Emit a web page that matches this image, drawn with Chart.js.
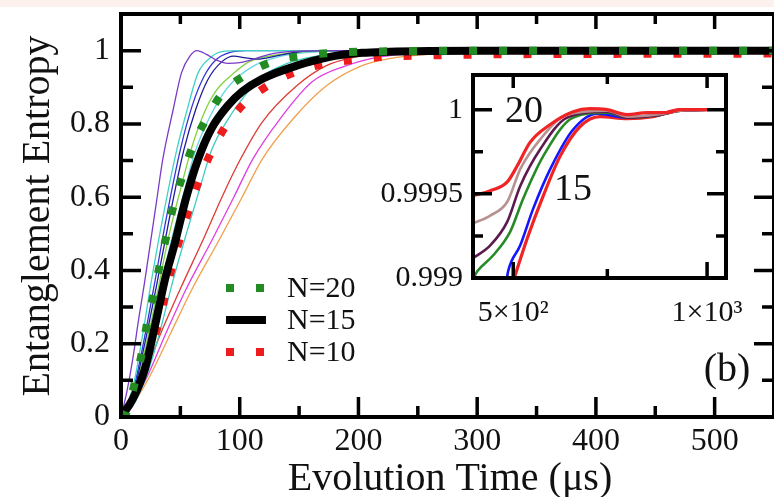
<!DOCTYPE html>
<html>
<head>
<meta charset="utf-8">
<script src="https://cdn.jsdelivr.net/npm/chart.js@4.4.1/dist/chart.umd.min.js"></script>
<style>
  html, body { margin: 0; padding: 0; background: #fff; }
  #wrap { position: relative; width: 774px; height: 497px; overflow: hidden; }
  #main { position: absolute; left: 0; top: 0; }
  #inset { position: absolute; left: 360px; top: 62px; }
</style>
</head>
<body>
<div id="wrap">
  <canvas id="main" width="774" height="497"></canvas>
  <canvas id="inset" width="395" height="270"></canvas>
</div>
<script>
// main panel: entropy vs time (us)
const xTicks = [0, 100, 200, 300, 400, 500];
const yTicks = [0, 0.2, 0.4, 0.6, 0.8, 1];
const yTickLabels = ["0", "0.2", "0.4", "0.6", "0.8", "1"];

const n20X = [0, 5, 11.8, 17.6, 22, 27.7, 33, 38.7, 44.5, 52, 60.5, 72, 85, 104, 127.7, 153, 178, 203, 250, 300, 550];
const n20Y = [0, 0.014, 0.096, 0.175, 0.257, 0.337, 0.42, 0.5, 0.58, 0.66, 0.74, 0.814, 0.882, 0.932, 0.97, 0.986, 0.994, 0.997, 0.999, 1, 1];
const n15X = [0, 10, 20, 30, 37, 45, 55, 65, 76, 90, 102, 119, 148, 176, 203, 226, 260, 300, 550];
const n15Y = [0, 0.05, 0.13, 0.27, 0.375, 0.47, 0.6, 0.704, 0.786, 0.85, 0.888, 0.923, 0.959, 0.983, 0.994, 0.997, 0.999, 1, 1];
const n10X = [0, 12, 23, 32, 37, 43, 49.6, 57, 65.5, 75.6, 87.4, 103, 123.5, 147, 171.4, 196.6, 221.8, 260, 320, 400, 550];
const n10Y = [0, 0.07, 0.17, 0.26, 0.33, 0.41, 0.488, 0.564, 0.644, 0.72, 0.79, 0.853, 0.904, 0.942, 0.964, 0.975, 0.983, 0.987, 0.99, 0.991, 0.992];

// thin curves
const purpleX = [0, 5, 10, 15, 20, 25, 30, 35, 44, 51, 58, 64, 72, 80, 90, 100, 110, 125, 145, 170, 550];
const purpleY = [0, 0.07, 0.16, 0.27, 0.37, 0.48, 0.59, 0.7, 0.84, 0.94, 0.985, 1, 0.99, 0.975, 0.965, 0.967, 0.975, 0.99, 0.998, 1, 1];
const cyan1X = [0, 10, 18, 25, 35, 47, 55, 65, 75, 85, 100, 550];
const cyan1Y = [0, 0.08, 0.22, 0.36, 0.54, 0.73, 0.83, 0.94, 0.98, 0.997, 1, 1];
const blue1X = [0, 10, 20, 28, 38, 50, 60, 70, 80, 92, 105, 550];
const blue1Y = [0, 0.07, 0.22, 0.36, 0.54, 0.73, 0.85, 0.93, 0.975, 0.995, 1, 1];
const blue2X = [0, 10, 20, 30, 40, 53, 63, 73, 85, 95, 105, 115, 130, 150, 170, 550];
const blue2Y = [0, 0.06, 0.2, 0.36, 0.53, 0.73, 0.84, 0.92, 0.97, 0.985, 0.98, 0.977, 0.985, 0.997, 1, 1];
const limeX = [0, 10, 20, 30, 40, 50, 60, 70, 80, 92, 108, 134, 160, 200, 550];
const limeY = [0, 0.06, 0.18, 0.33, 0.49, 0.62, 0.74, 0.83, 0.89, 0.93, 0.97, 0.99, 0.998, 1, 1];
const ltcyanX = [0, 10, 20, 30, 40, 52, 62, 75, 90, 110, 135, 165, 200, 550];
const ltcyanY = [0, 0.05, 0.16, 0.3, 0.45, 0.6, 0.72, 0.82, 0.9, 0.955, 0.985, 0.997, 1, 1];
const cyan2X = [0, 10, 20, 30, 44, 55, 66, 76.5, 91.6, 105, 119, 140, 161, 190, 230, 550];
const cyan2Y = [0, 0.03, 0.1, 0.2, 0.375, 0.5, 0.62, 0.73, 0.82, 0.88, 0.93, 0.965, 0.983, 0.995, 1, 1];
const redX = [0, 10, 20, 35, 50, 70, 85, 100, 119, 148, 173, 198, 220, 260, 320, 550];
const redY = [0, 0.05, 0.12, 0.24, 0.35, 0.49, 0.6, 0.7, 0.805, 0.904, 0.959, 0.983, 0.99, 0.997, 1, 1];
const magX = [0, 10, 22, 38, 55, 77, 95, 111, 134, 161, 190, 218, 250, 300, 350, 550];
const magY = [0, 0.04, 0.11, 0.23, 0.35, 0.485, 0.6, 0.704, 0.814, 0.915, 0.959, 0.983, 0.993, 0.998, 1, 1];
const orangeX = [0, 10, 24, 42, 60, 83, 102, 119, 145, 173, 203, 226, 260, 320, 380, 550];
const orangeY = [0, 0.035, 0.11, 0.23, 0.35, 0.485, 0.6, 0.704, 0.814, 0.904, 0.959, 0.978, 0.99, 0.998, 1, 1];

// inset panel (log time axis)
const insetXTicks = [500, 700, 1000];
const insetXLabels = { 500: "5×10²", 1000: "1×10³" };
const insetYTicks = [0.999, 0.99925, 0.9995, 0.99975, 1];
const insetYLabels = { 0.999: "0.999", 0.9995: "0.9995", 1: "1" };

const inRedTopX = [433, 460.6, 489.5, 507, 531, 570.7, 619.5, 658, 699.5, 751, 807, 867, 908, 1000];
const inRedTopY = [0.999488, 0.999518, 0.999571, 0.999665, 0.999806, 0.999912, 0.999988, 1.000006, 1, 0.999971, 0.999982, 0.999982, 1, 1];
const inRosyX = [433, 460.6, 489.5, 512.7, 550.6, 606.4, 699.5, 751, 836, 908, 1000];
const inRosyY = [0.999324, 0.999371, 0.999453, 0.999647, 0.999824, 0.999971, 0.999994, 0.999959, 0.999971, 0.999994, 1];
const inPlumX = [433, 460.6, 489.5, 512.7, 550.6, 606.4, 699.5, 751, 836, 908, 1000];
const inPlumY = [0.999118, 0.999194, 0.999335, 0.999547, 0.999765, 0.999953, 0.999988, 0.999953, 0.999965, 0.999994, 1];
const inGreenX = [433, 440, 465.5, 494.7, 518, 556.6, 619.5, 699.5, 751, 836, 908, 1000];
const inGreenY = [0.998995, 0.999041, 0.999135, 0.999276, 0.999471, 0.999724, 0.999953, 0.999982, 0.999953, 0.999965, 0.999994, 1];
const inBlueX = [488, 491, 512.7, 537, 570.7, 619.5, 675, 751, 836, 908, 1000];
const inBlueY = [0.99898, 0.999041, 0.999194, 0.999412, 0.999647, 0.999882, 0.999976, 0.999953, 0.999971, 0.999994, 1];
const inRedLowX = [500, 503.6, 525.6, 556.6, 591.4, 635, 682, 751, 824.5, 908, 1000];
const inRedLowY = [0.99898, 0.999018, 0.999235, 0.999488, 0.999724, 0.9999, 0.999959, 0.999947, 0.999959, 1, 1];

const SERIF = "'Liberation Serif', 'DejaVu Serif', serif";
Chart.defaults.font.family = SERIF;

function pts(xs, ys) {
  return xs.map((x, i) => ({ x: x, y: ys[i] }));
}

function line(label, xs, ys, color, width, dash) {
  return {
    label: label,
    data: pts(xs, ys),
    borderColor: color,
    backgroundColor: color,
    borderWidth: width,
    borderDash: dash || [],
    borderCapStyle: "butt",
    cubicInterpolationMode: "monotone",
    pointRadius: 0,
    fill: false
  };
}

// keep the plot box where we put it, labels may overhang
function fixX(h) {
  return s => { s.height = h; s.paddingLeft = 0; s.paddingRight = 0; };
}
function fixY(w) {
  return s => { s.width = w; s.paddingTop = 0; s.paddingBottom = 0; };
}

// frame + inward ticks drawn on top of the curves
function drawFrame(chart, spec) {
  const { ctx, chartArea: a, scales } = chart;
  const x = scales.x, y = scales.y;
  ctx.save();
  ctx.strokeStyle = "#000";
  ctx.lineWidth = spec.frame;
  ctx.strokeRect(a.left, a.top, a.right - a.left, a.bottom - a.top);
  ctx.lineWidth = spec.tick;
  ctx.beginPath();
  spec.xMajor.forEach(v => {
    const p = x.getPixelForValue(v);
    ctx.moveTo(p, a.bottom); ctx.lineTo(p, a.bottom - spec.bMaj);
    ctx.moveTo(p, a.top); ctx.lineTo(p, a.top + spec.tMaj);
  });
  spec.xMinor.forEach(v => {
    const p = x.getPixelForValue(v);
    ctx.moveTo(p, a.bottom); ctx.lineTo(p, a.bottom - spec.bMin);
    ctx.moveTo(p, a.top); ctx.lineTo(p, a.top + spec.tMin);
  });
  spec.yMajor.forEach(v => {
    const p = y.getPixelForValue(v);
    ctx.moveTo(a.left, p); ctx.lineTo(a.left + spec.lMaj, p);
    ctx.moveTo(a.right, p); ctx.lineTo(a.right - spec.lMaj, p);
  });
  spec.yMinor.forEach(v => {
    const p = y.getPixelForValue(v);
    ctx.moveTo(a.left, p); ctx.lineTo(a.left + spec.lMin, p);
    ctx.moveTo(a.right, p); ctx.lineTo(a.right - spec.lMin, p);
  });
  ctx.stroke();
  ctx.restore();
}

const mainPlugin = {
  id: "mainDeco",
  beforeDraw(chart) {
    const ctx = chart.ctx;
    ctx.save();
    ctx.fillStyle = "#ffffff";
    ctx.fillRect(0, 0, chart.width, chart.height);
    ctx.fillStyle = "#fcf1ec";
    ctx.fillRect(0, 0, chart.width, 7);
    ctx.restore();
  },
  afterDatasetsDraw(chart) {
    drawFrame(chart, {
      frame: 4, tick: 3.5,
      xMajor: [0, 100, 200, 300, 400, 500], xMinor: [50, 150, 250, 350, 450, 550],
      yMajor: [0.2, 0.4, 0.6, 0.8, 1], yMinor: [0.1, 0.3, 0.5, 0.7, 0.9],
      bMaj: 20, bMin: 11, tMaj: 15, tMin: 10, lMaj: 20, lMin: 12
    });
  },
  afterDraw(chart) {
    const ctx = chart.ctx;
    ctx.save();
    ctx.fillStyle = "#111";
    // axis titles
    ctx.font = "40px " + SERIF;
    ctx.textAlign = "center";
    ctx.textBaseline = "alphabetic";
    ctx.fillText("Evolution Time (μs)", 450, 490);
    ctx.translate(49, 216);
    ctx.rotate(-Math.PI / 2);
    ctx.fillText("Entanglement Entropy", 0, 0);
    ctx.setTransform(1, 0, 0, 1, 0, 0);

    // legend
    const rows = [
      { label: "N=20", color: "#228b22", dash: [8, 22], y: 288 },
      { label: "N=15", color: "#000000", dash: [], y: 320 },
      { label: "N=10", color: "#ee1c1c", dash: [8, 22], y: 352 }
    ];
    rows.forEach(r => {
      ctx.strokeStyle = r.color;
      ctx.lineWidth = 8;
      ctx.lineCap = "butt";
      ctx.setLineDash(r.dash);
      ctx.beginPath();
      ctx.moveTo(226, r.y);
      ctx.lineTo(266, r.y);
      ctx.stroke();
      ctx.setLineDash([]);
      ctx.font = "30px " + SERIF;
      ctx.textAlign = "left";
      ctx.textBaseline = "middle";
      ctx.fillText(r.label, 287, r.y + 1);
    });

    ctx.font = "40px " + SERIF;
    ctx.textAlign = "center";
    ctx.textBaseline = "middle";
    ctx.fillText("(b)", 727, 370);
    ctx.restore();
  }
};

const tickFont = { family: SERIF, size: 32 };

new Chart(document.getElementById("main"), {
  type: "line",
  data: {
    datasets: [
      line("N=20", n20X, n20Y, "#228b22", 8, [8, 22]),
      line("N=15", n15X, n15Y, "#000000", 8),
      line("N=10", n10X, n10Y, "#ee1c1c", 8, [8, 22]),
      line("a", purpleX, purpleY, "#7a3cc6", 1.3),
      line("b", cyan1X, cyan1Y, "#3fd3c6", 1.3),
      line("c", blue1X, blue1Y, "#3434d8", 1.3),
      line("d", blue2X, blue2Y, "#1c1c9c", 1.3),
      line("e", limeX, limeY, "#7ed23c", 1.3),
      line("f", ltcyanX, ltcyanY, "#66d6e2", 1.3),
      line("g", cyan2X, cyan2Y, "#3cccc4", 1.3),
      line("h", redX, redY, "#de3a34", 1.3),
      line("i", magX, magY, "#e03ee0", 1.3),
      line("j", orangeX, orangeY, "#f0a04c", 1.3)
    ]
  },
  options: {
    responsive: false,
    animation: false,
    devicePixelRatio: 1,
    layout: { padding: { top: 14, right: -1, left: 0, bottom: 0 } },
    plugins: { legend: { display: false }, tooltip: { enabled: false } },
    scales: {
      x: {
        type: "linear", min: 0, max: 550,
        grid: { display: false, drawTicks: false },
        border: { display: false },
        afterBuildTicks: s => { s.ticks = xTicks.map(v => ({ value: v })); },
        afterFit: fixX(80),
        ticks: { font: tickFont, color: "#111", padding: 5, maxRotation: 0, autoSkip: false,
                 callback: v => String(v) }
      },
      y: {
        type: "linear", min: 0, max: 1.1,
        grid: { display: false, drawTicks: false },
        border: { display: false },
        afterBuildTicks: s => { s.ticks = yTicks.map(v => ({ value: v })); },
        afterFit: fixY(121),
        ticks: { font: tickFont, color: "#111", padding: 11, autoSkip: false,
                 callback: (v, i) => yTickLabels[i] }
      }
    }
  },
  plugins: [mainPlugin]
});

const insetPlugin = {
  id: "insetDeco",
  afterDatasetsDraw(chart) {
    drawFrame(chart, {
      frame: 4, tick: 3.5,
      xMajor: [500, 1000], xMinor: [700],
      yMajor: [0.9995, 1], yMinor: [0.99925, 0.99975],
      bMaj: 16, bMin: 9, tMaj: 13, tMin: 9, lMaj: 19, lMin: 10
    });
    const ctx = chart.ctx;
    ctx.save();
    ctx.fillStyle = "#111";
    ctx.font = "38px " + SERIF;
    ctx.textAlign = "center";
    ctx.textBaseline = "middle";
    ctx.fillText("20", 164, 50);
    ctx.fillText("15", 213, 128);
    ctx.restore();
  }
};

const insetFont = { family: SERIF, size: 30 };

new Chart(document.getElementById("inset"), {
  type: "line",
  data: {
    datasets: [
      line("r1", inRedTopX, inRedTopY, "#f02424", 3.2),
      line("r2", inRosyX, inRosyY, "#b89292", 2.6),
      line("r3", inPlumX, inPlumY, "#5c1a4e", 2.6),
      line("r4", inGreenX, inGreenY, "#268a26", 2.6),
      line("r5", inBlueX, inBlueY, "#1414ff", 2.6),
      line("r6", inRedLowX, inRedLowY, "#f02424", 3.2)
    ]
  },
  options: {
    responsive: false,
    animation: false,
    devicePixelRatio: 1,
    layout: { padding: { top: 13, right: 29, left: 0, bottom: 0 } },
    plugins: { legend: { display: false }, tooltip: { enabled: false } },
    scales: {
      x: {
        type: "logarithmic", min: 433, max: 1070,
        grid: { display: false, drawTicks: false },
        border: { display: false },
        afterBuildTicks: s => { s.ticks = insetXTicks.map(v => ({ value: v })); },
        afterFit: fixX(54),
        ticks: { font: insetFont, color: "#111", padding: 17, maxRotation: 0, autoSkip: false,
                 callback: v => insetXLabels[v] || "" }
      },
      y: {
        type: "linear", min: 0.999, max: 1.000206,
        grid: { display: false, drawTicks: false },
        border: { display: false },
        afterBuildTicks: s => { s.ticks = insetYTicks.map(v => ({ value: v })); },
        afterFit: fixY(113),
        ticks: { font: insetFont, color: "#111", padding: 10, autoSkip: false,
                 callback: v => insetYLabels[v] || "" }
      }
    }
  },
  plugins: [insetPlugin]
});
</script>
</body>
</html>
